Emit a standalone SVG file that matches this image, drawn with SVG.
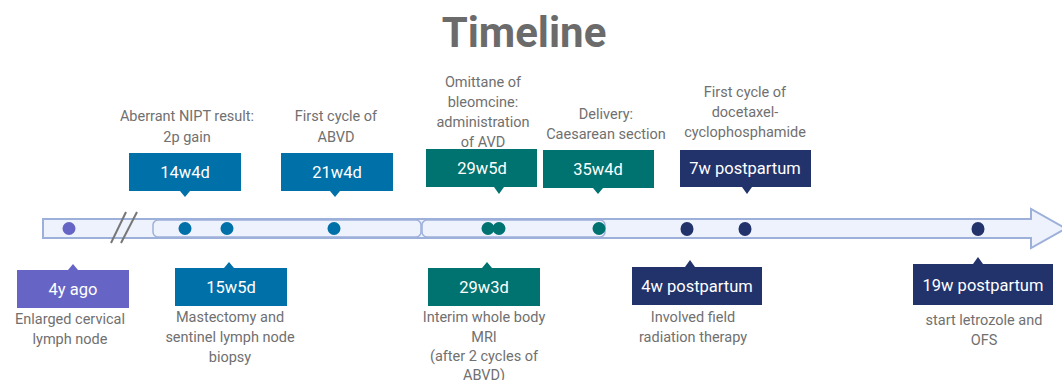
<svg xmlns="http://www.w3.org/2000/svg" width="1062" height="380" viewBox="0 0 1062 380">
<style>
.lbl{font-family:Roboto,"Liberation Sans",sans-serif;font-size:14.5px;fill:#707070;text-anchor:middle}
.box{font-family:Roboto,"Liberation Sans",sans-serif;font-size:16.5px;fill:#ffffff;text-anchor:middle;dominant-baseline:central}
.title{font-family:Roboto,"Liberation Sans",sans-serif;font-size:42px;font-weight:bold;fill:#6b6b6b;text-anchor:middle}
.purple{fill:#6665c5}
.blue{fill:#0070a8}
.teal{fill:#007370}
.navy{fill:#22326b}
.bar{fill:#eef2fc;stroke:#9db0da;stroke-width:2}
.seg{fill:#eef2fc;stroke:#9db0da;stroke-width:1.5}
.brk{stroke:#777777;stroke-width:2;fill:none}
</style>
<rect width="1062" height="380" fill="#ffffff"/>
<text class="title" x="524" y="47">Timeline</text>
<g id="timeline">
<polygon class="bar" points="43,219 1031,219 1031,209 1066,228.5 1031,248 1031,238 43,238"/>
<rect class="seg" x="153" y="220" width="268" height="17" rx="5"/>
<rect class="seg" x="422" y="220" width="183" height="17" rx="5"/>
<line class="brk" x1="111" y1="243" x2="126" y2="212"/>
<line class="brk" x1="121" y1="243" x2="137" y2="212"/>
</g>
<g id="connectors">
<circle class="purple" cx="69" cy="228.5" r="6.5"/>
<circle class="blue" cx="185" cy="228.5" r="6.5"/>
<circle class="blue" cx="227" cy="228.5" r="6.5"/>
<circle class="blue" cx="334" cy="228.5" r="6.5"/>
<circle class="teal" cx="488" cy="228.5" r="6.5"/>
<circle class="teal" cx="499" cy="228.5" r="6.5"/>
<circle class="teal" cx="599" cy="228.5" r="6.5"/>
<ellipse class="navy" cx="687" cy="229" rx="6.5" ry="7"/>
<ellipse class="navy" cx="745" cy="229" rx="6.5" ry="7"/>
<ellipse class="navy" cx="978" cy="229" rx="6.5" ry="7"/>
</g>
<g id="n4yago">
<path class="purple" d="M17 270 H68 L73 264 L78 270 H129 V308 H17 Z"/>
<text class="box" x="73" y="289.5">4y ago</text>
<text class="lbl" x="70" y="324">Enlarged cervical</text>
<text class="lbl" x="70" y="344">lymph node</text>
</g>
<g id="n14w4d">
<path class="blue" d="M129 153 H241 V191 H190 L185 197 L180 191 H129 Z"/>
<text class="box" x="185" y="172">14w4d</text>
<text class="lbl" x="187" y="121">Aberrant NIPT result:</text>
<text class="lbl" x="187" y="142">2p gain</text>
</g>
<g id="n15w5d">
<path class="blue" d="M175 268 H224 L229 262 L234 268 H287 V306 H175 Z"/>
<text class="box" x="231" y="287">15w5d</text>
<text class="lbl" x="230" y="322">Mastectomy and</text>
<text class="lbl" x="230" y="342">sentinel lymph node</text>
<text class="lbl" x="230" y="362">biopsy</text>
</g>
<g id="n21w4d">
<path class="blue" d="M281 153 H393 V191 H340 L335 197 L330 191 H281 Z"/>
<text class="box" x="337" y="172">21w4d</text>
<text class="lbl" x="336" y="121">First cycle of</text>
<text class="lbl" x="336" y="142">ABVD</text>
</g>
<g id="n29w3d">
<path class="teal" d="M428 268 H482 L487 262 L492 268 H540 V306 H428 Z"/>
<text class="box" x="484" y="287">29w3d</text>
<text class="lbl" x="484" y="322">Interim whole body</text>
<text class="lbl" x="484" y="342">MRI</text>
<text class="lbl" x="484" y="361">(after 2 cycles of</text>
<text class="lbl" x="484" y="380">ABVD)</text>
</g>
<g id="n29w5d">
<path class="teal" d="M426 149 H537 V187 H504 L499 194 L494 187 H426 Z"/>
<text class="box" x="482" y="168">29w5d</text>
<text class="lbl" x="483" y="87">Omittane of</text>
<text class="lbl" x="483" y="107">bleomcine:</text>
<text class="lbl" x="483" y="127">administration</text>
<text class="lbl" x="483" y="147">of AVD</text>
</g>
<g id="n35w4d">
<path class="teal" d="M543 150 H654 V188 H603 L598 194 L593 188 H543 Z"/>
<text class="box" x="598" y="169">35w4d</text>
<text class="lbl" x="606" y="119">Delivery:</text>
<text class="lbl" x="606" y="139">Caesarean section</text>
</g>
<g id="n4wpp">
<path class="navy" d="M632 267 H685 L690 260 L695 267 H762 V305 H632 Z"/>
<text class="box" x="697" y="286">4w postpartum</text>
<text class="lbl" x="693" y="322">Involved field</text>
<text class="lbl" x="693" y="342">radiation therapy</text>
</g>
<g id="n7wpp">
<path class="navy" d="M680 150 H811 V187 H752 L747 194 L742 187 H680 Z"/>
<text class="box" x="745" y="168.5">7w postpartum</text>
<text class="lbl" x="745" y="97">First cycle of</text>
<text class="lbl" x="745" y="117">docetaxel-</text>
<text class="lbl" x="745" y="137">cyclophosphamide</text>
</g>
<g id="n19wpp">
<path class="navy" d="M913 264 H973 L978 257 L983 264 H1053 V305 H913 Z"/>
<text class="box" x="983" y="285">19w postpartum</text>
<text class="lbl" x="984" y="325">start letrozole and</text>
<text class="lbl" x="984" y="345">OFS</text>
</g>
</svg>
